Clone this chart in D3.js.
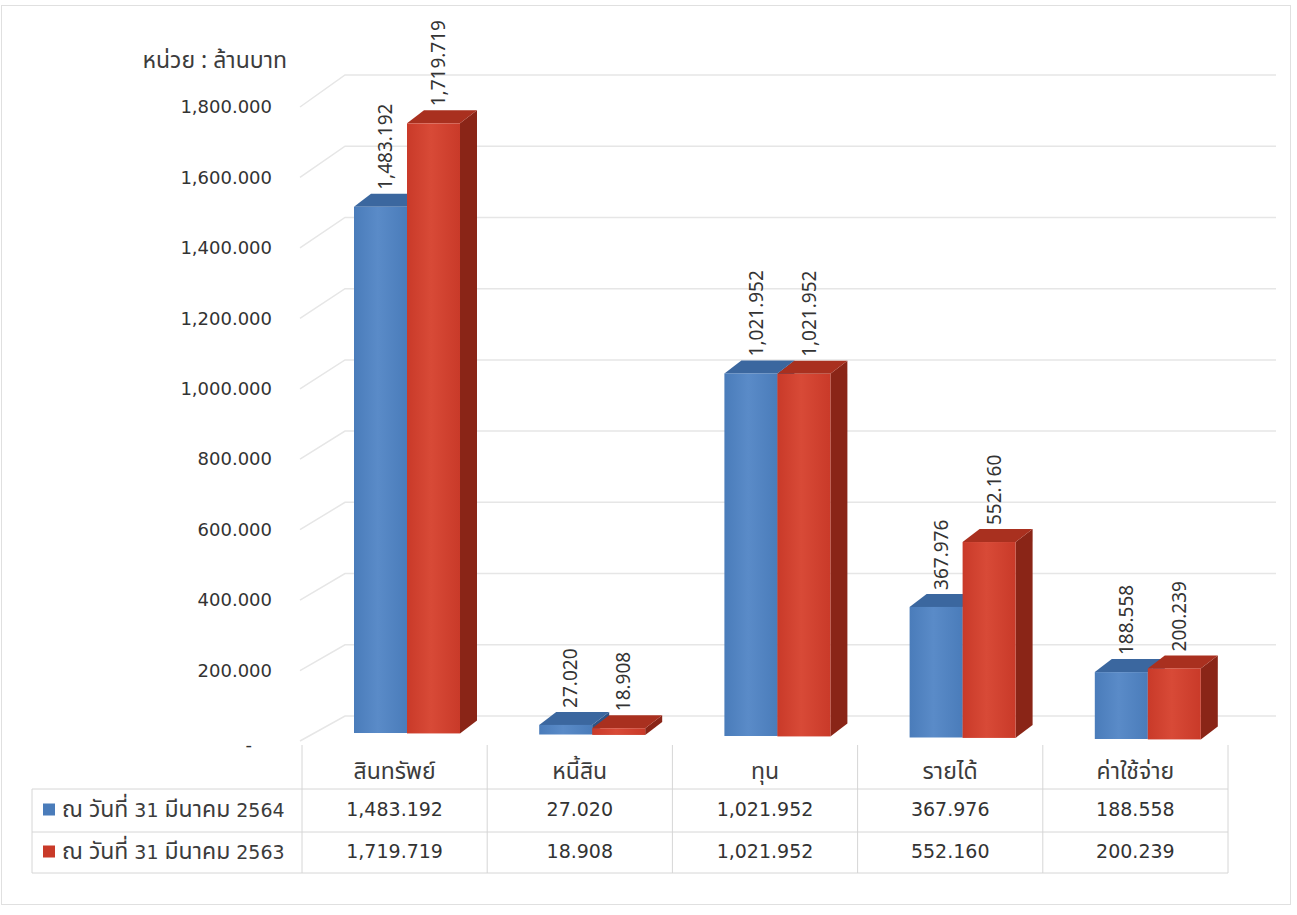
<!DOCTYPE html>
<html>
<head>
<meta charset="utf-8">
<script src="https://cdn.jsdelivr.net/npm/d3@7"></script>
<style>
  body { margin: 0; background: #fff; }
  text { fill: #333; }
  .thai { font-family: Tahoma, "Noto Sans Thai", "Leelawadee UI", "DejaVu Sans", sans-serif; font-size: 23px; fill: #3c3c3c; }
  .thai .digits { font-family: "DejaVu Sans", sans-serif; font-size: 19px; }
  .num { font-family: "DejaVu Sans", sans-serif; font-size: 18px; }
  .table-num { font-size: 19px; }
  .bar-label { font-family: "Noto Sans", sans-serif; font-size: 19px; }
</style>
</head>
<body>
<div id="wrapper"></div>
<script>
// data
const categories = ["สินทรัพย์", "หนี้สิน", "ทุน", "รายได้", "ค่าใช้จ่าย"]
const seriesNames = ["ณ วันที่ 31 มีนาคม 2564", "ณ วันที่ 31 มีนาคม 2563"]
const values2564 = [1483.192, 27.020, 1021.952, 367.976, 188.558]
const values2563 = [1719.719, 18.908, 1021.952, 552.160, 200.239]
const yTicks = [0, 200, 400, 600, 800, 1000, 1200, 1400, 1600, 1800]
const unitLabel = "หน่วย : ล้านบาท"

const seriesValues = [values2564, values2563]
const colors = [
  { front: "#4a7cba", light: "#5a8bc8", top: "#3b679f", side: "#2d5386" },
  { front: "#c93a29", light: "#d84a37", top: "#a9301f", side: "#8a2517" },
]

const dimensions = { width: 1297, height: 915 }
const depth = { dx: 17, dy: 13 }
const barWidth = 53

const svg = d3.select("#wrapper")
  .append("svg")
  .attr("width", dimensions.width)
  .attr("height", dimensions.height)

const fmt = d3.format(",.3f")

// thai text with the digit runs set smaller
function thaiText(sel, str) {
  str.split(/([0-9]+)/).filter(s => s.length).forEach(part => {
    sel.append("tspan")
      .attr("class", /^[0-9]+$/.test(part) ? "digits" : null)
      .text(part)
  })
}

// outer frame
svg.append("rect")
  .attr("x", 1.5).attr("y", 5.5)
  .attr("width", 1289).attr("height", 899)
  .attr("fill", "none").attr("stroke", "#e0e0e0")

// scales
const xScale = d3.scaleBand().domain(categories).range([302, 1228])
const seriesScale = d3.scaleBand().domain([0, 1]).range([52, 52 + barWidth * 2])
const yScale = d3.scaleLinear().domain([0, 1800]).range([741, 107])
const backScale = d3.scaleLinear().domain([0, 1800]).range([716, 75])
const heightScale = d3.scaleLinear().domain([0, 1800]).range([0, 638.6])
const baseline = d3.scaleLinear().domain([353, 1096]).range([733, 739])

// back wall gridlines
const grid = svg.append("g")
yTicks.forEach(v => {
  grid.append("polyline")
    .attr("points", `300,${yScale(v)} 345,${backScale(v)} 1276,${backScale(v)}`)
    .attr("fill", "none")
    .attr("stroke", "#e6e6e6")
    .attr("stroke-width", 1.5)
})

// y axis labels
const yAxis = svg.append("g")
  .attr("transform", "translate(272,0)")
  .call(d3.axisLeft(yScale).tickValues(yTicks).tickSize(0).tickPadding(0)
    .tickFormat(d => d === 0 ? "-" : fmt(d)))
yAxis.select(".domain").remove()
yAxis.selectAll("text").attr("class", "num").attr("fill", "#333")
  .attr("x", d => d === 0 ? -20 : 0)
  .attr("y", d => d === 0 ? 4 : 0)

svg.append("text")
  .attr("class", "thai")
  .attr("x", 287).attr("y", 62)
  .attr("text-anchor", "end")
  .attr("dominant-baseline", "middle")
  .text(unitLabel)

// gradients
const defs = svg.append("defs")
colors.forEach((c, i) => {
  const g = defs.append("linearGradient").attr("id", `front-${i}`)
  g.append("stop").attr("offset", "0%").attr("stop-color", c.front)
  g.append("stop").attr("offset", "45%").attr("stop-color", c.light)
  g.append("stop").attr("offset", "100%").attr("stop-color", c.front)
})

// bars
const bars = svg.append("g")
categories.forEach((cat, ci) => {
  seriesValues.forEach((vals, si) => {
    const v = vals[ci]
    const x0 = xScale(cat) + seriesScale(si)
    const yb = baseline(x0)
    const yt = yb - heightScale(v)
    const { dx, dy } = depth
    const g = bars.append("g")
    g.append("polygon")
      .attr("points", `${x0 + barWidth},${yt} ${x0 + barWidth + dx},${yt - dy} ${x0 + barWidth + dx},${yb - dy} ${x0 + barWidth},${yb}`)
      .attr("fill", colors[si].side)
    g.append("polygon")
      .attr("points", `${x0},${yt} ${x0 + dx},${yt - dy} ${x0 + barWidth + dx},${yt - dy} ${x0 + barWidth},${yt}`)
      .attr("fill", colors[si].top)
    g.append("rect")
      .attr("x", x0).attr("y", yt)
      .attr("width", barWidth).attr("height", yb - yt)
      .attr("fill", `url(#front-${si})`)
  })
})

// value labels
const labels = svg.append("g")
categories.forEach((cat, ci) => {
  seriesValues.forEach((vals, si) => {
    const v = vals[ci]
    const x0 = xScale(cat) + seriesScale(si)
    const yb = baseline(x0)
    const yt = yb - heightScale(v) - depth.dy - 4
    const cx = x0 + barWidth / 2 + 5
    labels.append("text")
      .attr("class", "bar-label")
      .attr("transform", `translate(${cx},${yt}) rotate(-90)`)
      .attr("dy", "0.35em")
      .text(fmt(v))
  })
})

// data table
const table = svg.append("g")
const tableLeft = 32, tableRight = 1228
const rowLines = [789, 832, 873]
const lineColor = "#d6d6d6"
rowLines.forEach(y => {
  table.append("line")
    .attr("x1", tableLeft).attr("x2", tableRight)
    .attr("y1", y).attr("y2", y)
    .attr("stroke", lineColor)
})
table.append("line")
  .attr("x1", tableLeft).attr("x2", tableLeft)
  .attr("y1", rowLines[0]).attr("y2", rowLines[2])
  .attr("stroke", lineColor)
categories.concat(["end"]).forEach((cat, i) => {
  const x = i < categories.length ? xScale(cat) : xScale.range()[1]
  table.append("line")
    .attr("x1", x).attr("x2", x)
    .attr("y1", 745).attr("y2", rowLines[2])
    .attr("stroke", lineColor)
})

table.selectAll(".cat-label")
  .data(categories)
  .join("text")
  .attr("class", "thai cat-label")
  .attr("x", d => xScale(d) + xScale.bandwidth() / 2)
  .attr("y", 773)
  .attr("text-anchor", "middle")
  .attr("dominant-baseline", "middle")
  .text(d => d)

seriesNames.forEach((name, si) => {
  const yc = (rowLines[si] + rowLines[si + 1]) / 2
  table.append("rect")
    .attr("x", 43).attr("y", yc - 7)
    .attr("width", 12).attr("height", 12)
    .attr("fill", colors[si].front)
  table.append("text")
    .attr("class", "thai")
    .attr("x", 62).attr("y", yc)
    .attr("dominant-baseline", "middle")
    .call(thaiText, name)
  table.selectAll(`.val-${si}`)
    .data(seriesValues[si])
    .join("text")
    .attr("class", `num table-num val-${si}`)
    .attr("x", (d, i) => xScale(categories[i]) + xScale.bandwidth() / 2)
    .attr("y", yc)
    .attr("text-anchor", "middle")
    .attr("dominant-baseline", "middle")
    .text(d => fmt(d))
})
</script>
</body>
</html>
